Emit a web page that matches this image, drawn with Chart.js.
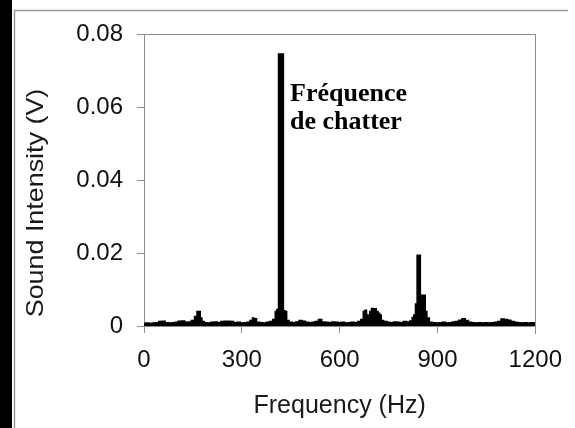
<!DOCTYPE html>
<html>
<head>
<meta charset="utf-8">
<script src="https://cdn.jsdelivr.net/npm/chart.js@4/dist/chart.umd.min.js"></script>
<style>
  html, body { margin: 0; padding: 0; background: #fff; }
  #wrap { width: 575px; height: 428px; }
</style>
</head>
<body>
<div id="wrap"><canvas id="c" width="575" height="428"></canvas></div>
<script>
// Frequency (Hz) of each spectrum sample
const frequencies = [
  0, 10, 20, 30, 40, 50, 60, 70, 80, 90,
  100, 110, 120, 130, 140, 150, 160, 165, 170, 175,
  180, 190, 200, 210, 220, 230, 240, 250, 260, 270,
  280, 290, 300, 310, 320, 330, 335, 340, 350, 360,
  370, 380, 390, 400, 405, 410, 415, 420, 425, 430,
  435, 440, 450, 460, 470, 480, 490, 500, 510, 520,
  530, 540, 550, 560, 570, 580, 590, 600, 610, 620,
  630, 640, 650, 660, 670, 675, 680, 685, 690, 695,
  700, 705, 710, 715, 720, 725, 730, 740, 750, 760,
  770, 780, 790, 800, 810, 820, 825, 830, 835, 840,
  845, 850, 855, 860, 865, 870, 880, 890, 900, 910,
  920, 930, 940, 950, 960, 970, 980, 990, 1000, 1010,
  1020, 1030, 1040, 1050, 1060, 1070, 1080, 1090, 1100, 1110,
  1120, 1130, 1140, 1150, 1160, 1170, 1180, 1190, 1200
];
// Sound intensity (V)
const intensity = [
  0.0007, 0.0008, 0.0007, 0.0008, 0.0009, 0.0012, 0.0013, 0.0009, 0.0008, 0.0009,
  0.0010, 0.0013, 0.0014, 0.0010, 0.0011, 0.0015, 0.0026, 0.0040, 0.0040, 0.0022,
  0.0012, 0.0009, 0.0008, 0.0010, 0.0011, 0.0009, 0.0012, 0.0013, 0.0013, 0.0012,
  0.0009, 0.0010, 0.0008, 0.0009, 0.0010, 0.0015, 0.0022, 0.0020, 0.0010, 0.0009,
  0.0008, 0.0010, 0.0012, 0.0018, 0.0040, 0.0045, 0.0745, 0.0745, 0.0745, 0.0042,
  0.0040, 0.0015, 0.0010, 0.0009, 0.0011, 0.0015, 0.0013, 0.0010, 0.0009, 0.0010,
  0.0012, 0.0018, 0.0011, 0.0010, 0.0009, 0.0011, 0.0010, 0.0009, 0.0010, 0.0008,
  0.0009, 0.0010, 0.0009, 0.0012, 0.0018, 0.0040, 0.0043, 0.0030, 0.0022, 0.0040,
  0.0048, 0.0046, 0.0047, 0.0040, 0.0035, 0.0030, 0.0015, 0.0012, 0.0010, 0.0009,
  0.0011, 0.0010, 0.0009, 0.0012, 0.0011, 0.0014, 0.0023, 0.0030, 0.0060, 0.0194,
  0.0194, 0.0084, 0.0084, 0.0084, 0.0040, 0.0022, 0.0010, 0.0009, 0.0008, 0.0009,
  0.0010, 0.0008, 0.0009, 0.0011, 0.0012, 0.0016, 0.0020, 0.0015, 0.0010, 0.0009,
  0.0008, 0.0009, 0.0008, 0.0009, 0.0008, 0.0009, 0.0010, 0.0012, 0.0019, 0.0018,
  0.0016, 0.0012, 0.0010, 0.0009, 0.0008, 0.0009, 0.0008, 0.0009, 0.0008
];
const xTicks = [0, 300, 600, 900, 1200];
const yTicks = [0, 0.02, 0.04, 0.06, 0.08];
const xTitle = 'Frequency (Hz)';
const yTitle = 'Sound Intensity (V)';
const annotationLines = ['Fréquence', 'de chatter'];

const points = frequencies.map((f, i) => ({ x: f, y: intensity[i] }));

const decor = {
  id: 'decor',
  beforeDraw(chart) {
    const ctx = chart.ctx;
    ctx.save();
    ctx.fillStyle = '#ffffff';
    ctx.fillRect(0, 0, chart.width, chart.height);
    // scanned page edge
    ctx.fillStyle = '#000000';
    ctx.fillRect(0, 0, 12, chart.height);
    ctx.strokeStyle = '#9a9a9a';
    ctx.lineWidth = 1.5;
    ctx.beginPath();
    ctx.moveTo(14.5, 10);
    ctx.lineTo(14.5, chart.height);
    ctx.moveTo(14.5, 10.5);
    ctx.lineTo(568, 10.5);
    ctx.stroke();
    ctx.restore();
  },
  afterDraw(chart) {
    const ctx = chart.ctx;
    const a = chart.chartArea;
    ctx.save();
    // top and right frame lines
    ctx.strokeStyle = '#8c8c8c';
    ctx.lineWidth = 1;
    ctx.beginPath();
    ctx.moveTo(a.left - 7, Math.round(a.top) + 0.5);
    ctx.lineTo(a.right, Math.round(a.top) + 0.5);
    ctx.moveTo(Math.round(a.right) + 0.5, a.top);
    ctx.lineTo(Math.round(a.right) + 0.5, a.bottom + 8);
    ctx.stroke();
    // y title
    ctx.fillStyle = '#1a1a1a';
    ctx.font = '24px "Liberation Sans", Arial, sans-serif';
    ctx.textAlign = 'center';
    ctx.textBaseline = 'middle';
    ctx.translate(36, 203);
    ctx.rotate(-Math.PI / 2);
    ctx.scale(1.12, 1);
    ctx.fillText(yTitle, 0, 0);
    ctx.restore();
    // annotation
    ctx.save();
    ctx.fillStyle = '#000000';
    ctx.font = 'bold 26px "Liberation Serif", "Times New Roman", serif';
    ctx.textAlign = 'left';
    ctx.textBaseline = 'alphabetic';
    ctx.fillText(annotationLines[0], 290, 100.5);
    ctx.fillText(annotationLines[1], 290, 128.5);
    ctx.restore();
  }
};

new Chart(document.getElementById('c'), {
  type: 'line',
  data: {
    datasets: [{
      data: points,
      borderColor: '#000000',
      backgroundColor: '#000000',
      borderWidth: 1.5,
      fill: 'origin',
      stepped: 'middle',
      pointRadius: 0,
      tension: 0
    }]
  },
  options: {
    responsive: false,
    devicePixelRatio: 1,
    animation: false,
    layout: { padding: { left: 0, top: 34, right: 38, bottom: 0 } },
    plugins: { legend: { display: false }, tooltip: { enabled: false } },
    scales: {
      x: {
        type: 'linear',
        min: 0,
        max: 1200,
        afterFit(s) { s.height = 102; },
        afterBuildTicks(s) { s.ticks = xTicks.map(v => ({ value: v })); },
        grid: { drawOnChartArea: false, drawTicks: true, tickLength: 7, tickColor: '#8c8c8c', lineWidth: 1 },
        border: { display: true, color: '#8c8c8c', width: 1 },
        ticks: {
          padding: 13,
          color: '#111111',
          font: { family: '"Liberation Sans", Arial, sans-serif', size: 24 },
          maxRotation: 0,
          callback: v => String(v)
        },
        title: {
          display: true,
          text: xTitle,
          color: '#1a1a1a',
          font: { family: '"Liberation Sans", Arial, sans-serif', size: 25 },
          padding: { top: 0, bottom: 7 }
        }
      },
      y: {
        type: 'linear',
        min: 0,
        max: 0.08,
        afterFit(s) { s.width = 144; },
        afterBuildTicks(s) { s.ticks = yTicks.map(v => ({ value: v })); },
        grid: { drawOnChartArea: false, drawTicks: true, tickLength: 7, tickColor: '#8c8c8c', lineWidth: 1 },
        border: { display: true, color: '#8c8c8c', width: 1 },
        ticks: {
          padding: 14,
          color: '#111111',
          font: { family: '"Liberation Sans", Arial, sans-serif', size: 24 },
          callback: v => (v === 0 ? '0' : v.toFixed(2))
        }
      }
    }
  },
  plugins: [decor]
});
</script>
</body>
</html>
